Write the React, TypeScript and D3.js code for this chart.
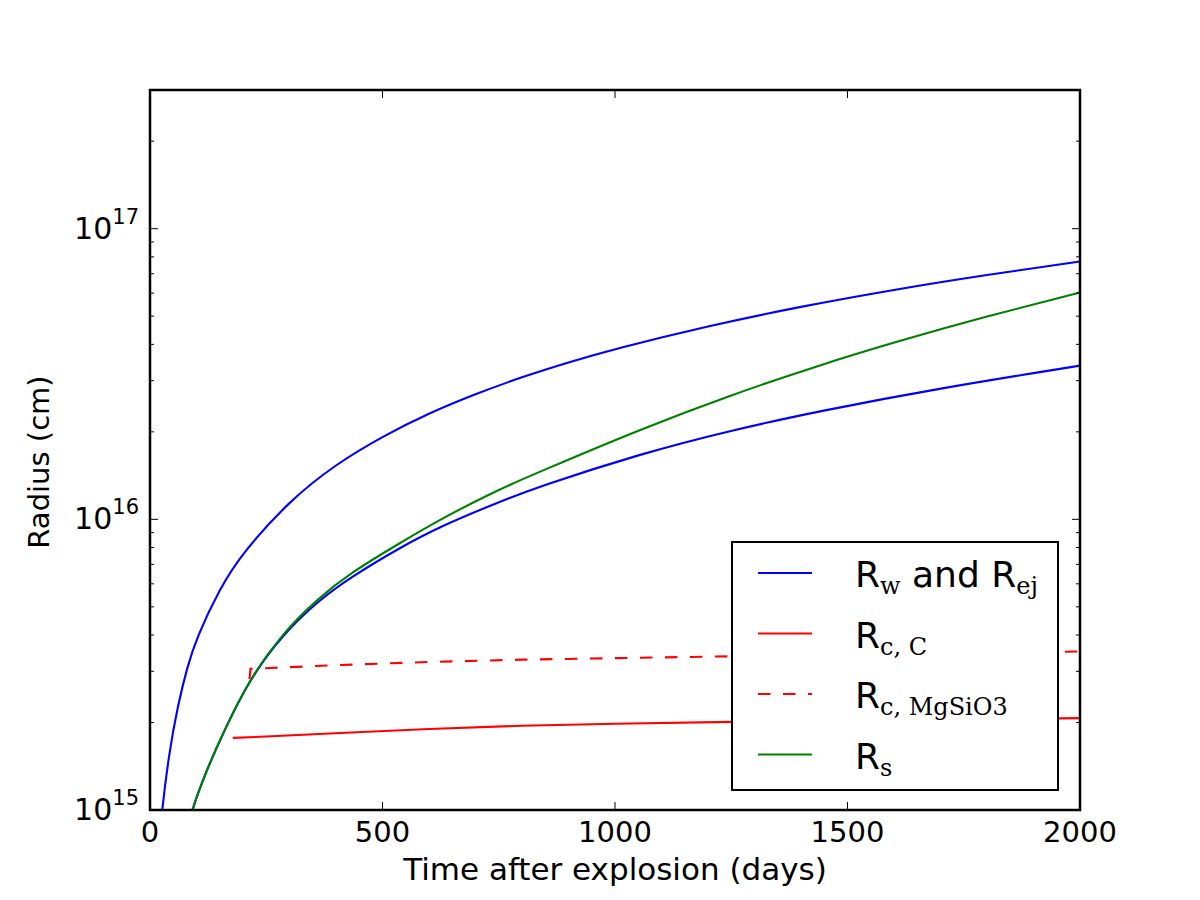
import React, { useEffect, useRef } from 'react';
import * as d3 from 'd3';

// R_w (wind / forward radius)
const rwDays = [20, 25, 40, 60, 80, 100, 150, 200, 300, 400, 500, 600, 700, 800, 900, 1000, 1200, 1400, 1600, 1800, 2000];
const rwValues = [7.7e14, 9.7e14, 1.54e15, 2.3e15, 3.1e15, 3.9e15, 5.8e15, 7.7e15, 1.16e16, 1.55e16, 1.93e16, 2.32e16, 2.7e16, 3.09e16, 3.47e16, 3.86e16, 4.63e16, 5.4e16, 6.17e16, 6.94e16, 7.71e16];

// R_ej, lower blue curve
const rejDays = [80, 90, 120, 157, 215, 286, 359, 430, 538, 624, 746, 839, 1054, 1247, 1441, 1700, 2000];
const rejValues = [8.5e14, 1.0e15, 1.35e15, 1.84e15, 2.84e15, 4.02e15, 5.2e15, 6.3e15, 8.0e15, 9.45e15, 1.14e16, 1.3e16, 1.68e16, 2.02e16, 2.36e16, 2.83e16, 3.38e16];

// R_s, green curve
const rsDays = [80, 90, 120, 157, 215, 286, 359, 430, 538, 624, 746, 839, 1054, 1247, 1441, 1613, 1800, 2000];
const rsValues = [8.5e14, 1.0e15, 1.35e15, 1.84e15, 2.84e15, 4.07e15, 5.3e15, 6.53e15, 8.3e15, 1.0e16, 1.26e16, 1.46e16, 2.04e16, 2.67e16, 3.4e16, 4.12e16, 5.0e16, 6.03e16];

// R_c,C, solid red
const rcCDays = [178, 250, 409, 600, 800, 1000, 1250, 1500, 1750, 2000];
const rcCValues = [1.77e15, 1.79e15, 1.84e15, 1.9e15, 1.95e15, 1.98e15, 2.01e15, 2.03e15, 2.05e15, 2.07e15];

// R_c,MgSiO3, dashed red
const rcMgDays = [214, 216, 400, 600, 800, 1000, 1250, 1500, 1750, 2000];
const rcMgValues = [2.82e15, 3.06e15, 3.15e15, 3.23e15, 3.29e15, 3.33e15, 3.38e15, 3.43e15, 3.47e15, 3.51e15];

const xTicks = [0, 500, 1000, 1500, 2000];
const yExponents = [15, 16, 17];

const App = () => {
  const ref = useRef<SVGSVGElement>(null);

  useEffect(() => {
    const svg = d3.select(ref.current);
    svg.selectAll('*').remove();

    const left = 150, right = 1080, top = 90, bottom = 810;
    const font = 'DejaVu Sans, Bitstream Vera Sans, sans-serif';
    const serif = 'DejaVu Serif, Liberation Serif, serif';

    const x = d3.scaleLinear().domain([0, 2000]).range([left, right]);
    const y = d3.scaleLog().domain([1e15, 3e17]).range([bottom, top]);

    svg.append('rect').attr('width', 1200).attr('height', 900).attr('fill', '#fff');

    svg.append('clipPath').attr('id', 'plot-clip')
      .append('rect')
      .attr('x', left).attr('y', top)
      .attr('width', right - left).attr('height', bottom - top);

    const smooth = d3.line<[number, number]>()
      .x(d => x(d[0]))
      .y(d => y(d[1]))
      .curve(d3.curveBasis);
    const straight = d3.line<[number, number]>()
      .x(d => x(d[0]))
      .y(d => y(d[1]));

    const series = [
      { days: rwDays, values: rwValues, color: '#0000ff', dash: null, gen: smooth },
      { days: rejDays, values: rejValues, color: '#0000ff', dash: null, gen: smooth },
      { days: rcCDays, values: rcCValues, color: '#ff0000', dash: null, gen: straight },
      { days: rcMgDays, values: rcMgValues, color: '#ff0000', dash: '12.5,12.5', gen: straight },
      { days: rsDays, values: rsValues, color: '#008000', dash: null, gen: smooth },
    ];

    const plot = svg.append('g').attr('clip-path', 'url(#plot-clip)');
    series.forEach(s => {
      plot.append('path')
        .attr('d', s.gen(s.days.map((d, i) => [d, s.values[i]] as [number, number])))
        .attr('fill', 'none')
        .attr('stroke', s.color)
        .attr('stroke-width', 2.1)
        .attr('stroke-dasharray', s.dash);
    });

    // ticks, inside, on all four sides
    const ticks = svg.append('g').attr('stroke', '#000').attr('stroke-width', 1);
    xTicks.forEach(t => {
      ticks.append('line').attr('x1', x(t)).attr('x2', x(t)).attr('y1', bottom).attr('y2', bottom - 8);
      ticks.append('line').attr('x1', x(t)).attr('x2', x(t)).attr('y1', top).attr('y2', top + 8);
    });
    const minor: number[] = [];
    [14, 15, 16, 17].forEach(e => {
      for (let k = 2; k <= 9; k++) {
        const v = k * Math.pow(10, e);
        if (v > 1e15 && v <= 3e17) minor.push(v);
      }
    });
    yExponents.forEach(e => {
      const yy = y(Math.pow(10, e));
      ticks.append('line').attr('x1', left).attr('x2', left + 8).attr('y1', yy).attr('y2', yy);
      ticks.append('line').attr('x1', right).attr('x2', right - 8).attr('y1', yy).attr('y2', yy);
    });
    minor.forEach(v => {
      const yy = y(v);
      ticks.append('line').attr('x1', left).attr('x2', left + 4).attr('y1', yy).attr('y2', yy);
      ticks.append('line').attr('x1', right).attr('x2', right - 4).attr('y1', yy).attr('y2', yy);
    });

    svg.append('rect')
      .attr('x', left).attr('y', top)
      .attr('width', right - left).attr('height', bottom - top)
      .attr('fill', 'none').attr('stroke', '#000').attr('stroke-width', 2.5);

    // tick labels
    xTicks.forEach(t => {
      svg.append('text')
        .attr('x', x(t)).attr('y', 842)
        .attr('text-anchor', 'middle')
        .style('font-family', font).style('font-size', '29px')
        .text(t);
    });
    yExponents.forEach(e => {
      const txt = svg.append('text')
        .attr('x', 139).attr('y', y(Math.pow(10, e)) + 10)
        .attr('text-anchor', 'end')
        .style('font-family', font).style('font-size', '30px');
      txt.append('tspan').text('10');
      txt.append('tspan').attr('dy', -15).style('font-size', '21px').text(e);
    });

    // axis labels
    svg.append('text')
      .attr('x', (left + right) / 2).attr('y', 880)
      .attr('text-anchor', 'middle')
      .style('font-family', font).style('font-size', '31px')
      .text('Time after explosion (days)');
    svg.append('text')
      .attr('transform', `translate(49,462) rotate(-90)`)
      .attr('text-anchor', 'middle')
      .style('font-family', font).style('font-size', '29px')
      .text('Radius (cm)');

    // legend
    const lg = svg.append('g');
    lg.append('rect')
      .attr('x', 732).attr('y', 542).attr('width', 326).attr('height', 248)
      .attr('fill', '#fff').attr('stroke', '#000').attr('stroke-width', 2);

    const entries = [
      { color: '#0000ff', dash: null, parts: [['R', 'w'], [' and R', 'ej']] },
      { color: '#ff0000', dash: null, parts: [['R', 'c, C']] },
      { color: '#ff0000', dash: '12.5,12.5', parts: [['R', 'c, MgSiO3']] },
      { color: '#008000', dash: null, parts: [['R', 's']] },
    ];
    entries.forEach((en, i) => {
      const cy = 573 + i * 60.5;
      lg.append('line')
        .attr('x1', 758).attr('x2', 812).attr('y1', cy).attr('y2', cy)
        .attr('stroke', en.color).attr('stroke-width', 2.1)
        .attr('stroke-dasharray', en.dash);
      const txt = lg.append('text')
        .attr('x', 855).attr('y', cy + 14)
        .style('font-family', font).style('font-size', '36px')
        .attr('xml:space', 'preserve');
      en.parts.forEach((p, j) => {
        txt.append('tspan').attr('dy', j === 0 ? 0 : -7).style('white-space', 'pre').text(p[0]);
        txt.append('tspan').attr('dy', 7)
          .style('font-family', serif).style('font-size', '24px')
          .style('white-space', 'pre')
          .text(p[1]);
      });
    });
  }, []);

  return (
    <svg
      ref={ref}
      width={1200}
      height={900}
      style={{ position: 'absolute', left: 0, top: 0, display: 'block' }}
    />
  );
};

export default App;
